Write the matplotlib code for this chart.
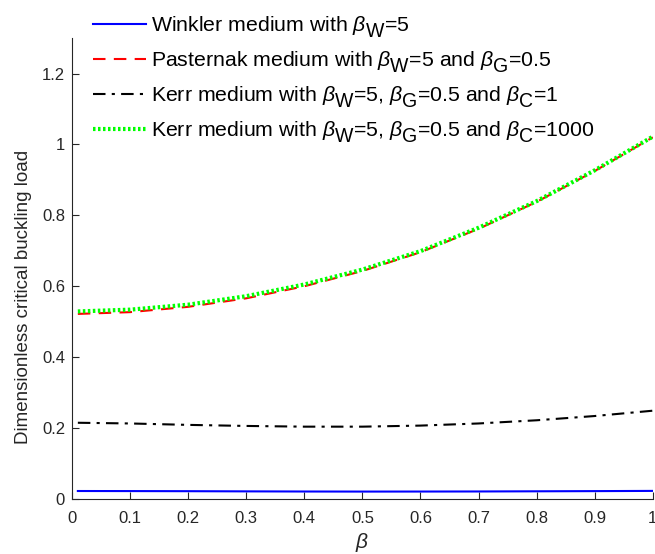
import matplotlib
matplotlib.use("Agg")
from matplotlib import pyplot as plt
import matplotlib._mathtext as mt

plt.rcParams['font.family'] = ['Liberation Sans', 'DejaVu Sans']
plt.rcParams['mathtext.fontset'] = 'custom'
plt.rcParams['mathtext.rm'] = 'Liberation Sans'
plt.rcParams['mathtext.it'] = 'Liberation Sans:italic'
# MATLAB style subscripts: nearly full size and dropped low
mt.SHRINK_FACTOR = 0.92
mt.FontConstantsBase.sub1 = 0.55
mt.FontConstantsBase.subdrop = 0.55

# nonlocal parameter beta
beta = [0.01, 0.1, 0.2, 0.3, 0.4, 0.5, 0.6, 0.7, 0.8, 0.9, 1.0]

# dimensionless critical buckling load for each medium
winkler = [0.0225, 0.0223, 0.0220, 0.0215, 0.0211, 0.0209, 0.0210, 0.0212, 0.0217, 0.0222, 0.0228]
pasternak = [0.522, 0.527, 0.542, 0.566, 0.600, 0.643, 0.696, 0.762, 0.838, 0.925, 1.020]
kerr_1 = [0.215, 0.213, 0.209, 0.206, 0.204, 0.204, 0.207, 0.213, 0.222, 0.234, 0.249]
kerr_1000 = [0.529, 0.534, 0.548, 0.572, 0.605, 0.647, 0.699, 0.765, 0.840, 0.927, 1.022]

labels = [r'Winkler medium with $\beta_{\rm W}$=5',
          r'Pasternak medium with $\beta_{\rm W}$=5 and $\beta_{\rm G}$=0.5',
          r'Kerr medium with $\beta_{\rm W}$=5, $\beta_{\rm G}$=0.5 and $\beta_{\rm C}$=1',
          r'Kerr medium with $\beta_{\rm W}$=5, $\beta_{\rm G}$=0.5 and $\beta_{\rm C}$=1000']

fig = plt.figure(figsize=(6.55, 5.54), dpi=100)
ax = fig.add_axes([0.110, 0.0993, 0.8866, 0.832])

ax.plot(beta, winkler, color='#0000ff', lw=1.5, label=labels[0])
ax.plot(beta, pasternak, color='#ff0000', lw=1.5, ls=(0, (6, 4)), label=labels[1])
ax.plot(beta, kerr_1, color='black', lw=1.5, ls=(0, (6, 3, 1.5, 3)), label=labels[2])
ax.plot(beta, kerr_1000, color='#00ff00', lw=3, ls=(0, (0.6, 0.6)), label=labels[3])

ax.set_xlim(0, 1)
ax.set_ylim(0, 1.3)
ax.set_xticks([0, 0.1, 0.2, 0.3, 0.4, 0.5, 0.6, 0.7, 0.8, 0.9, 1.0])
ax.set_xticklabels(['0', '0.1', '0.2', '0.3', '0.4', '0.5', '0.6', '0.7', '0.8', '0.9', '1'])
ax.set_yticks([0, 0.2, 0.4, 0.6, 0.8, 1, 1.2])
ax.set_yticklabels(['0', '0.2', '0.4', '0.6', '0.8', '1', '1.2'])
ax.tick_params(direction='in', length=5, width=0.8, labelsize=12, colors='#262626')
ax.tick_params(axis='x', pad=9)
ax.tick_params(axis='y', pad=5)
for s in ['top', 'right']:
    ax.spines[s].set_visible(False)
for s in ['left', 'bottom']:
    ax.spines[s].set_color('#262626')

ax.set_xlabel(r'$\beta$', fontsize=15, color='#262626', labelpad=3)
ax.set_ylabel('Dimensionless critical buckling load', fontsize=13.5, color='#262626')
ax.yaxis.set_label_coords(-0.069, 0.438)

leg = fig.legend(loc='upper left', bbox_to_anchor=(0.113, 1.008), frameon=False,
                 fontsize=15.3, handlelength=2.5, handletextpad=0.22, labelspacing=0.47)

fig.savefig('out.png', dpi=100)
